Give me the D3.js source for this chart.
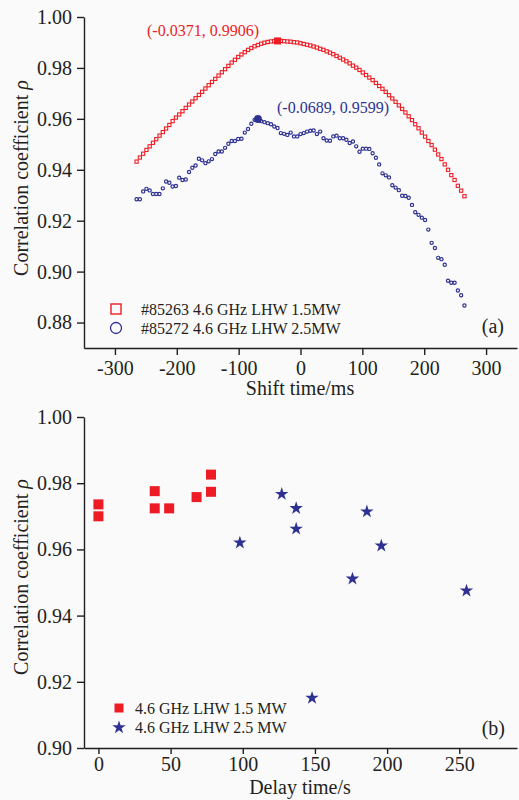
<!DOCTYPE html>
<html>

<head>
    <meta charset="UTF-8" />
    <title>correlation vs shift / delay</title>
    <style>
        body {
            margin: 0;
            padding: 0;
            background-color: #fafafa;
        }

        svg {
            display: block;
            font-family: 'Liberation Serif', 'Times New Roman', serif;
        }
    </style>
</head>

<body>
    <div class="container"></div>

    <script src="https://cdnjs.cloudflare.com/ajax/libs/d3/7.8.5/d3.min.js"></script>
    <script>
        // panel (a): shift time (ms) vs correlation
        const shiftTime = [
            -265, -259.7, -254.4, -249.1, -243.8, -238.5, -233.2, -227.9, -222.6, -217.3,
            -212, -206.7, -201.4, -196.1, -190.8, -185.5, -180.2, -174.9, -169.6, -164.3,
            -159, -153.7, -148.4, -143.1, -137.8, -132.5, -127.2, -121.9, -116.6, -111.3,
            -106, -100.7, -95.4, -90.1, -84.8, -79.5, -74.2, -68.9, -63.6, -58.3,
            -53, -47.7, -42.4, -37.1, -31.8, -26.5, -21.2, -15.9, -10.6, -5.3,
            0, 5.3, 10.6, 15.9, 21.2, 26.5, 31.8, 37.1, 42.4, 47.7,
            53, 58.3, 63.6, 68.9, 74.2, 79.5, 84.8, 90.1, 95.4, 100.7,
            106, 111.3, 116.6, 121.9, 127.2, 132.5, 137.8, 143.1, 148.4, 153.7,
            159, 164.3, 169.6, 174.9, 180.2, 185.5, 190.8, 196.1, 201.4, 206.7,
            212, 217.3, 222.6, 227.9, 233.2, 238.5, 243.8, 249.1, 254.4, 259.7,
            265
        ];
        const corr85263 = [
            0.9432, 0.9448, 0.9463, 0.9478, 0.9492, 0.9506, 0.9520, 0.9534, 0.9548, 0.9562,
            0.9576, 0.9591, 0.9605, 0.9617, 0.9630, 0.9643, 0.9656, 0.9668, 0.9681, 0.9694,
            0.9706, 0.9719, 0.9732, 0.9745, 0.9757, 0.9770, 0.9783, 0.9795, 0.9808, 0.9821,
            0.9832, 0.9843, 0.9853, 0.9862, 0.9871, 0.9878, 0.9885, 0.9890, 0.9895, 0.9899,
            0.9902, 0.9904, 0.9905, 0.9906, 0.9906, 0.9905, 0.9904, 0.9903, 0.9901, 0.9900,
            0.9897, 0.9894, 0.9891, 0.9888, 0.9884, 0.9880, 0.9875, 0.9871, 0.9865, 0.9860,
            0.9854, 0.9847, 0.9840, 0.9833, 0.9826, 0.9818, 0.9809, 0.9801, 0.9792, 0.9782,
            0.9772, 0.9762, 0.9752, 0.9741, 0.9729, 0.9718, 0.9706, 0.9693, 0.9680, 0.9667,
            0.9653, 0.9639, 0.9625, 0.9610, 0.9595, 0.9579, 0.9563, 0.9546, 0.9530, 0.9513,
            0.9497, 0.9479, 0.9460, 0.9442, 0.9421, 0.9400, 0.9379, 0.9360, 0.9337, 0.9318,
            0.9296
        ];
        const corr85272 = [
            0.9284, 0.9284, 0.9315, 0.9325, 0.9319, 0.9305, 0.9305, 0.9305, 0.9327, 0.9354,
            0.9349, 0.9334, 0.9336, 0.9369, 0.9360, 0.9362, 0.9391, 0.9408, 0.9417, 0.9443,
            0.9437, 0.9426, 0.9433, 0.9442, 0.9462, 0.9472, 0.9472, 0.9486, 0.9502, 0.9513,
            0.9513, 0.9521, 0.9522, 0.9546, 0.9560, 0.9581, 0.9596, 0.9599, 0.9591, 0.9587,
            0.9583, 0.9579, 0.9570, 0.9564, 0.9544, 0.9541, 0.9537, 0.9546, 0.9531, 0.9531,
            0.9540, 0.9544, 0.9550, 0.9553, 0.9554, 0.9540, 0.9550, 0.9524, 0.9515, 0.9514,
            0.9531, 0.9534, 0.9524, 0.9524, 0.9518, 0.9505, 0.9511, 0.9492, 0.9471, 0.9483,
            0.9483, 0.9482, 0.9465, 0.9447, 0.9421, 0.9386, 0.9378, 0.9370, 0.9339, 0.9330,
            0.9320, 0.9298, 0.9297, 0.9290, 0.9262, 0.9233, 0.9223, 0.9212, 0.9203, 0.9165,
            0.9113, 0.9093, 0.9054, 0.9049, 0.9027, 0.8964, 0.8956, 0.8956, 0.8926, 0.8907,
            0.8867
        ];
        const peakShift = [-37.1, -68.9];
        const peakCorr = [0.9906, 0.9599];
        const peakLabels = ['(-0.0371, 0.9906)', '(-0.0689, 0.9599)'];
        const legendA = ['#85263 4.6 GHz LHW 1.5MW', '#85272 4.6 GHz LHW 2.5MW'];
        const shiftTicks = [-300, -200, -100, 0, 100, 200, 300];
        const corrTicksA = [0.88, 0.90, 0.92, 0.94, 0.96, 0.98, 1.00];

        // panel (b): delay time (s) vs correlation
        const delay15 = [0, 0, 39, 39, 49, 68, 78, 78];
        const corr15 = [0.9736, 0.9700, 0.9776, 0.9724, 0.9724, 0.9758, 0.9826, 0.9774];
        const delay25 = [98, 127, 137, 137, 148, 176, 186, 196, 255];
        const corr25 = [0.9622, 0.9769, 0.9726, 0.9664, 0.9153, 0.9513, 0.9716, 0.9613, 0.9477];
        const legendB = ['4.6 GHz LHW 1.5 MW', '4.6 GHz LHW 2.5 MW'];
        const delayTicks = [0, 50, 100, 150, 200, 250];
        const corrTicksB = [0.90, 0.92, 0.94, 0.96, 0.98, 1.00];

        const red = '#ed1c24';
        const blue = '#2e3192';
        const ink = '#231f20';

        const w = 519;
        const h = 800;

        const svg = d3.select('.container').append('svg')
            .attr('width', w)
            .attr('height', h)

        function styleAxis(g) {
            g.attr('font-size', 20).attr('font-family', null);
            g.selectAll('path, line').attr('stroke', ink).attr('stroke-width', 1.4);
            g.selectAll('text').attr('fill', ink);
        }

        function yTitle(x, y) {
            const t = svg.append('text')
                .attr('transform', `translate(${x},${y}) rotate(-90)`)
                .attr('text-anchor', 'middle')
                .attr('font-size', 20)
                .attr('fill', ink)
                .text('Correlation coefficient ');
            t.append('tspan').attr('font-style', 'italic').text('ρ');
        }

        // ---- (a)
        const xA = d3.scaleLinear().domain([-350, 350]).range([84, 517]);
        const yA = d3.scaleLinear().domain([0.87, 1.00]).range([348, 17]);

        svg.append('g')
            .attr('transform', `translate(0,${yA.range()[0]})`)
            .call(d3.axisBottom(xA).tickValues(shiftTicks).tickFormat(d => String(d))
                .tickSize(7).tickPadding(6).tickSizeOuter(0))
            .call(styleAxis);

        svg.append('g')
            .attr('transform', `translate(${xA.range()[0]},0)`)
            .call(d3.axisLeft(yA).tickValues(corrTicksA).tickFormat(d3.format('.2f'))
                .tickSize(7).tickPadding(5).tickSizeOuter(0))
            .call(styleAxis);

        const ptsA = shiftTime.map((s, i) => ({ s: s, a: corr85263[i], b: corr85272[i] }));

        svg.append('g').selectAll('rect')
            .data(ptsA)
            .join('rect')
            .attr('x', d => xA(d.s) - 1.6)
            .attr('y', d => yA(d.a) - 1.6)
            .attr('width', 3.2)
            .attr('height', 3.2)
            .attr('fill', '#fff')
            .attr('stroke', red)
            .attr('stroke-width', 1.1)

        svg.append('g').selectAll('circle')
            .data(ptsA)
            .join('circle')
            .attr('cx', d => xA(d.s))
            .attr('cy', d => yA(d.b))
            .attr('r', 1.6)
            .attr('fill', '#fff')
            .attr('stroke', blue)
            .attr('stroke-width', 1.2)

        // peak markers + labels
        svg.append('rect')
            .attr('x', xA(peakShift[0]) - 3.5)
            .attr('y', yA(peakCorr[0]) - 3.5)
            .attr('width', 7)
            .attr('height', 7)
            .attr('fill', red)
        svg.append('circle')
            .attr('cx', xA(peakShift[1]))
            .attr('cy', yA(peakCorr[1]))
            .attr('r', 4)
            .attr('fill', blue)

        svg.append('text')
            .attr('x', 147).attr('y', 36)
            .attr('font-size', 16).attr('fill', red)
            .text(peakLabels[0]);
        svg.append('text')
            .attr('x', 277).attr('y', 113)
            .attr('font-size', 16).attr('fill', blue)
            .text(peakLabels[1]);

        // legend (a)
        svg.append('rect')
            .attr('x', 111).attr('y', 304).attr('width', 10).attr('height', 10)
            .attr('fill', 'none').attr('stroke', red).attr('stroke-width', 1.4);
        svg.append('circle')
            .attr('cx', 116).attr('cy', 328).attr('r', 5.5)
            .attr('fill', 'none').attr('stroke', blue).attr('stroke-width', 1.3);
        svg.append('g').selectAll('text')
            .data(legendA)
            .join('text')
            .attr('x', 141)
            .attr('y', (d, i) => 315 + i * 19)
            .attr('font-size', 16)
            .attr('fill', ink)
            .text(d => d);

        svg.append('text')
            .attr('x', 504).attr('y', 333)
            .attr('text-anchor', 'end')
            .attr('font-size', 20).attr('fill', ink)
            .text('(a)');

        svg.append('text')
            .attr('x', 300).attr('y', 395)
            .attr('text-anchor', 'middle')
            .attr('font-size', 20).attr('fill', ink)
            .text('Shift time/ms');

        yTitle(28, 178);

        // ---- (b)
        const xB = d3.scaleLinear().domain([-10, 290]).range([84, 517]);
        const yB = d3.scaleLinear().domain([0.90, 1.00]).range([748, 417]);

        svg.append('g')
            .attr('transform', `translate(0,${yB.range()[0]})`)
            .call(d3.axisBottom(xB).tickValues(delayTicks).tickFormat(d => String(d))
                .tickSize(6).tickPadding(3).tickSizeOuter(0))
            .call(styleAxis);

        svg.append('g')
            .attr('transform', `translate(${xB.range()[0]},0)`)
            .call(d3.axisLeft(yB).tickValues(corrTicksB).tickFormat(d3.format('.2f'))
                .tickSize(7).tickPadding(5).tickSizeOuter(0))
            .call(styleAxis);

        const star = d3.symbol().type(d3.symbolStar).size(56);

        svg.append('g').selectAll('rect')
            .data(delay15.map((t, i) => ({ t: t, c: corr15[i] })))
            .join('rect')
            .attr('x', d => xB(d.t) - 5)
            .attr('y', d => yB(d.c) - 5)
            .attr('width', 10)
            .attr('height', 10)
            .attr('fill', red)

        svg.append('g').selectAll('path')
            .data(delay25.map((t, i) => ({ t: t, c: corr25[i] })))
            .join('path')
            .attr('d', star)
            .attr('transform', d => `translate(${xB(d.t)},${yB(d.c) + 0.6})`)
            .attr('fill', blue)

        // legend (b)
        svg.append('rect')
            .attr('x', 114.5).attr('y', 703.5).attr('width', 9).attr('height', 9)
            .attr('fill', red);
        svg.append('path')
            .attr('d', star)
            .attr('transform', 'translate(119,727.5)')
            .attr('fill', blue);
        svg.append('g').selectAll('text')
            .data(legendB)
            .join('text')
            .attr('x', 135)
            .attr('y', (d, i) => 714 + i * 19)
            .attr('font-size', 16)
            .attr('fill', ink)
            .text(d => d);

        svg.append('text')
            .attr('x', 505).attr('y', 735)
            .attr('text-anchor', 'end')
            .attr('font-size', 20).attr('fill', ink)
            .text('(b)');

        svg.append('text')
            .attr('x', 300).attr('y', 794)
            .attr('text-anchor', 'middle')
            .attr('font-size', 20).attr('fill', ink)
            .text('Delay time/s');

        yTitle(28, 577);
    </script>
</body>

</html>
